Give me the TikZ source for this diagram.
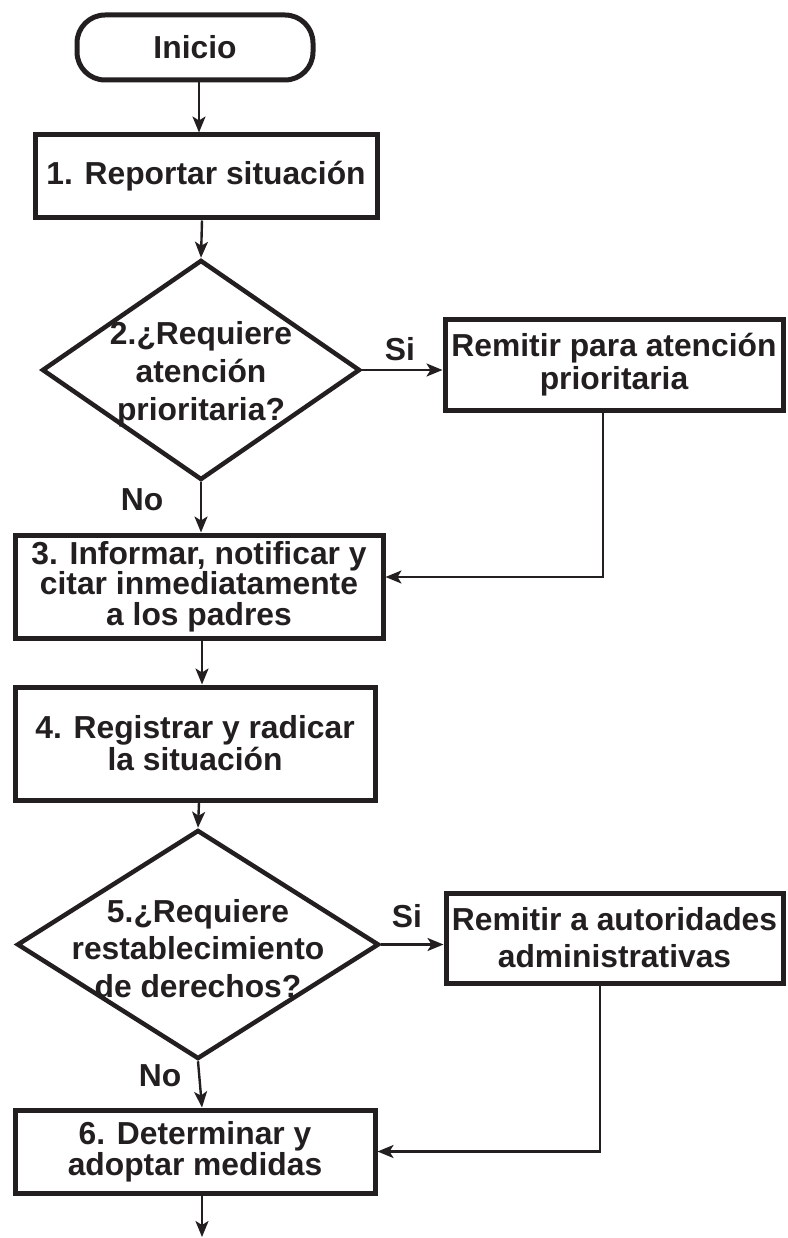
\documentclass[tikz,border=0pt]{standalone}
\usepackage{fontspec}
\setmainfont{Liberation Sans}
\usetikzlibrary{arrows.meta,shapes.geometric}
\definecolor{ink}{HTML}{231F20}
\begin{document}
\begin{tikzpicture}[x=1pt,y=-1pt,
  every node/.style={text=ink},
  txt/.style={font=\bfseries\fontsize{31.8}{#1}\selectfont, align=center},
  box/.style={draw=ink, line width=5pt, rectangle, inner sep=0pt},
  dia/.style={draw=ink, line width=4.5pt, diamond, inner sep=0pt},
  arr/.style={draw=ink, line width=2.4pt, -{Stealth[length=16pt,width=13pt,inset=4pt]}},
  lbl/.style={font=\bfseries\fontsize{31.8}{36}\selectfont, anchor=base}]
\useasboundingbox (0,0) rectangle (787,1238);

\node[box, rounded corners=28pt, minimum width=236pt, minimum height=65pt, txt=38] (inicio) at (195,47.5) {Inicio};
\node[box, minimum width=342pt, minimum height=83pt, txt=38] (b1) at (206,176.5) {1. Reportar situación};
\node[dia, minimum width=318pt, minimum height=220pt,
  label={[txt=38,yshift=-4pt]center:2.¿Requiere\\atención\\prioritaria?}] (d2) at (201,370) {};
\node[box, minimum width=338pt, minimum height=91pt, txt=33] (r1) at (614,364.5) {Remitir para atención\\prioritaria};
\node[box, minimum width=368pt, minimum height=103pt, txt=30.5] (b3) at (199,586.5) {3. Informar, notificar y\\citar inmediatamente\\a los padres};
\node[box, minimum width=360pt, minimum height=113pt, txt=32] (b4) at (195,743.5) {4. Registrar y radicar\\la situación};
\node[dia, minimum width=362pt, minimum height=229pt,
  label={[txt=37.5,yshift=-4pt]center:5.¿Requiere\\restablecimiento\\de derechos?}] (d5) at (198,944.5) {};
\node[box, minimum width=337pt, minimum height=90pt, txt=37] (r2) at (614.5,938) {Remitir a autoridades\\administrativas};
\node[box, minimum width=360pt, minimum height=83pt, txt=29] (b6) at (195,1151.5) {6. Determinar y\\adoptar medidas};
\coordinate (fin) at (202,1237);

\node[lbl] (si1) at (400,360) {Si};
\node[lbl] (si2) at (407,927) {Si};
\node[lbl] (no1) at (142,510) {No};
\node[lbl] (no2) at (160,1086) {No};

\draw[arr] ([xshift=4pt]inicio.south) -- ([xshift=-7pt]b1.north);
\draw[arr] ([xshift=-4pt]b1.south) -- (d2.north);
\draw[arr] (d2.east) -- (d2.east -| r1.west);
\draw[arr] (d2.south) -- (d2.south |- b3.north);
\draw[arr] ([xshift=-11pt]r1.south) |- ([yshift=9.5pt]b3.east);
\draw[arr] ([xshift=3pt]b3.south) -- ([xshift=7pt]b4.north);
\draw[arr] ([xshift=4pt]b4.south) -- (d5.north);
\draw[arr] (d5.east) -- (d5.east -| r2.west);
\draw[arr] (d5.south) -- ([xshift=7pt]b6.north);
\draw[arr] ([xshift=-14.5pt]r2.south) |- (b6.east);
\draw[arr] ([xshift=7pt]b6.south) -- (fin);
\end{tikzpicture}
\end{document}
